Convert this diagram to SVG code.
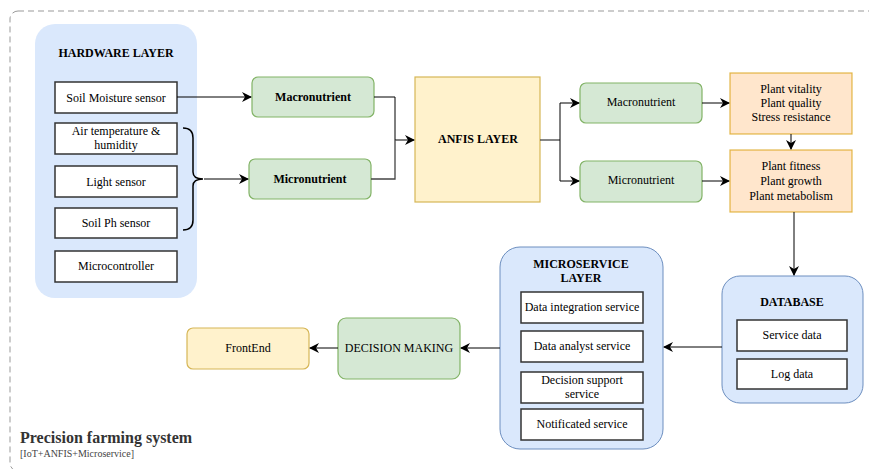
<svg xmlns="http://www.w3.org/2000/svg" width="869" height="469" viewBox="0 0 869 469" font-family="'Liberation Serif', 'DejaVu Serif', serif">
<defs>
<marker id="arr" viewBox="0 0 10 10" refX="9" refY="5" markerWidth="10" markerHeight="10" markerUnits="userSpaceOnUse" orient="auto">
<path d="M0,0 L10,5 L0,10 L3,5 Z" fill="#000"/>
</marker>
<style>
svg text{font-family:'Liberation Serif','DejaVu Serif',serif;font-size:12px;fill:#000;text-anchor:middle;dominant-baseline:central}
.b{font-weight:bold}
.layer{fill:#dae8fc;stroke:#6c8ebf;stroke-width:1}
.hw{fill:#dae8fc;stroke:none}
.box{fill:#fff;stroke:#333;stroke-width:1.5}
.green{fill:#d5e8d4;stroke:#82b366;stroke-width:1.2}
.yellow{fill:#fff2cc;stroke:#d6b656;stroke-width:1.2}
.orange{fill:#ffe6cc;stroke:#d79b00;stroke-width:1.2;stroke-opacity:0.7}
.c{fill:none;stroke:#000;stroke-width:1;marker-end:url(#arr)}
.cg{fill:none;stroke:#444;stroke-width:1.3}
</style>
</defs>
<rect x="10" y="11" width="890" height="460" rx="8" fill="none" stroke="#999" stroke-width="1" stroke-dasharray="6 4"/>

<g id="hardware">
<rect class="hw" x="35" y="24" width="162" height="274" rx="20"/>
<text class="b" x="116" y="53">HARDWARE LAYER</text>
</g>
<g id="soil-moisture"><rect class="box" x="55" y="82" width="122" height="31"/><text x="116" y="97.5">Soil Moisture sensor</text></g>
<g id="air-temp"><rect class="box" x="55" y="123" width="122" height="31"/><text x="116" y="131">Air temperature &amp;</text><text x="116" y="145">humidity</text></g>
<g id="light"><rect class="box" x="55" y="166" width="122" height="31"/><text x="116" y="181.5">Light sensor</text></g>
<g id="soil-ph"><rect class="box" x="55" y="208" width="122" height="30"/><text x="116" y="222.5">Soil Ph sensor</text></g>
<g id="microcontroller"><rect class="box" x="55" y="251" width="122" height="31"/><text x="116" y="266">Microcontroller</text></g>
<g id="brace"><path d="M183,128 Q193,128 193,138 L193,172 Q193,179 203,179 Q193,179 193,186 L193,220 Q193,230 183,230" fill="none" stroke="#000" stroke-width="1.5"/></g>

<g id="macro1"><rect class="green" x="252" y="77" width="122" height="40" rx="6"/><text class="b" x="313" y="97">Macronutrient</text></g>
<g id="micro1"><rect class="green" x="249" y="159" width="122" height="40" rx="6"/><text class="b" x="310" y="179">Micronutrient</text></g>

<g id="anfis"><rect class="yellow" x="415" y="77" width="125" height="125"/><text class="b" x="478" y="139">ANFIS LAYER</text></g>

<g id="macro2"><rect class="green" x="580" y="83" width="122" height="40" rx="6"/><text x="641" y="102">Macronutrient</text></g>
<g id="micro2"><rect class="green" x="580" y="161" width="122" height="41" rx="6"/><text x="641" y="180">Micronutrient</text></g>

<g id="vitality"><rect class="orange" x="730" y="73" width="122" height="61"/><text x="791" y="89">Plant vitality</text><text x="791" y="103">Plant quality</text><text x="791" y="117">Stress resistance</text></g>
<g id="fitness"><rect class="orange" x="730" y="150" width="122" height="62"/><text x="791" y="166">Plant fitness</text><text x="791" y="181">Plant growth</text><text x="791" y="196">Plant metabolism</text></g>

<g id="database">
<rect class="layer" x="722" y="276" width="141" height="127" rx="18"/>
<text class="b" x="792" y="302">DATABASE</text>
</g>
<g id="service-data"><rect class="box" x="737" y="320" width="110" height="31"/><text x="792" y="335">Service data</text></g>
<g id="log-data"><rect class="box" x="737" y="359" width="110" height="30"/><text x="792" y="374">Log data</text></g>

<g id="microservice">
<rect class="layer" x="500" y="247" width="163" height="202" rx="20"/>
<text class="b" x="581" y="264">MICROSERVICE</text>
<text class="b" x="581" y="278">LAYER</text>
</g>
<g id="data-integration"><rect class="box" x="521" y="292" width="122" height="31"/><text x="582" y="307">Data integration service</text></g>
<g id="data-analyst"><rect class="box" x="521" y="331" width="122" height="31"/><text x="582" y="346">Data analyst service</text></g>
<g id="decision-support"><rect class="box" x="521" y="372" width="122" height="31"/><text x="582" y="380">Decision support</text><text x="582" y="394">service</text></g>
<g id="notificated"><rect class="box" x="521" y="409" width="122" height="31"/><text x="582" y="424">Notificated service</text></g>

<g id="decision-making"><rect class="green" x="338" y="318" width="122" height="61" rx="8"/><text x="399" y="348">DECISION MAKING</text></g>
<g id="frontend"><rect class="yellow" x="187" y="328" width="122" height="41" rx="6"/><text x="248" y="348">FrontEnd</text></g>

<g id="title">
<text class="b" x="20" y="437" style="text-anchor:start;font-size:16px;fill:#333">Precision farming system</text>
<text x="20" y="453" style="text-anchor:start;font-size:10px;fill:#444">[IoT+ANFIS+Microservice]</text>
</g>

<g id="connectors">
<path class="c" d="M177,97 L251,97"/>
<path class="c" d="M204,179 L248,179"/>
<path class="c" d="M374,97 L395,97 L395,140 L414,140"/>
<path class="cg" d="M371,179 L395,179 L395,140"/>
<path class="cg" d="M540,140 L560,140"/>
<path class="c" d="M560,140 L560,103 L579,103"/>
<path class="c" d="M560,140 L560,181 L579,181"/>
<path class="c" d="M702,103 L729,103"/>
<path class="c" d="M702,181 L729,181"/>
<path class="c" d="M791,134 L791,149"/>
<path class="c" d="M794,212 L794,275"/>
<path class="c" d="M722,347 L664,347"/>
<path class="c" d="M500,348 L461,348"/>
<path class="c" d="M338,348 L310,348"/>
</g>
</svg>
